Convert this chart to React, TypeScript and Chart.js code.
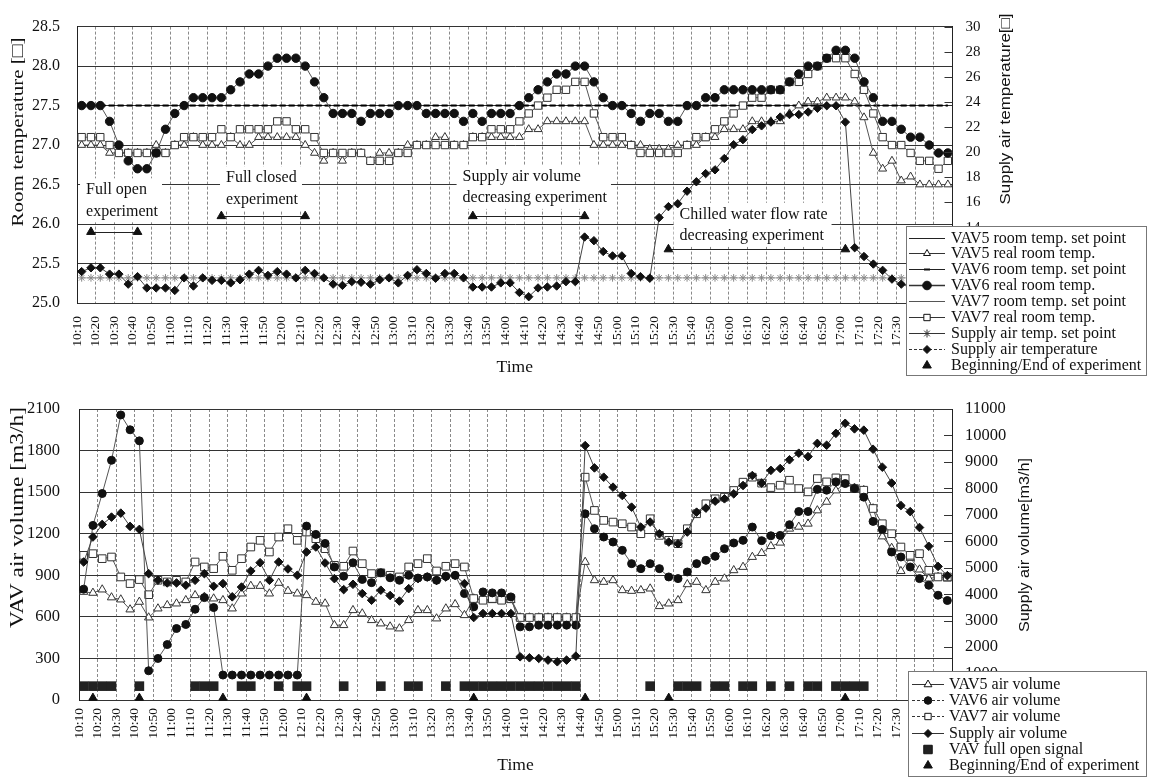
import React, { useEffect, useRef } from "react";
import { Chart, registerables } from "chart.js";

Chart.register(...registerables);

const SERIF = "'Liberation Serif', 'Times New Roman', serif";
const SANS = "'Liberation Sans', Arial, sans-serif";

// ---------- categories ----------
const sampleTimes = [
  "10:10","10:15","10:20","10:25","10:30","10:35","10:40","10:45","10:50","10:55",
  "11:00","11:05","11:10","11:15","11:20","11:25","11:30","11:35","11:40","11:45","11:50","11:55",
  "12:00","12:05","12:10","12:15","12:20","12:25","12:30","12:35","12:40","12:45","12:50","12:55",
  "13:00","13:05","13:10","13:15","13:20","13:25","13:30","13:35","13:40","13:45","13:50","13:55",
  "14:00","14:05","14:10","14:15","14:20","14:25","14:30","14:35","14:40","14:45","14:50","14:55",
  "15:00","15:05","15:10","15:15","15:20","15:25","15:30","15:35","15:40","15:45","15:50","15:55",
  "16:00","16:05","16:10","16:15","16:20","16:25","16:30","16:35","16:40","16:45","16:50","16:55",
  "17:00","17:05","17:10","17:15","17:20","17:25","17:30","17:35","17:40","17:45","17:50","17:55"
];

const tickLabels = [
  "10:10","10:20","10:30","10:40","10:50",
  "11:00","11:10","11:20","11:30","11:40","11:50",
  "12:00","12:10","12:20","12:30","12:40","12:50",
  "13:00","13:10","13:20","13:30","13:40","13:50",
  "14:00","14:10","14:20","14:30","14:40","14:50",
  "15:00","15:10","15:20","15:30","15:40","15:50",
  "16:00","16:10","16:20","16:30","16:40","16:50",
  "17:00","17:10","17:20","17:30","17:40","17:50"
];

// ---------- top chart: temperatures ----------
const roomSetPoint = [
  27.5,27.5,27.5,27.5,27.5,27.5,27.5,27.5,27.5,27.5,
  27.5,27.5,27.5,27.5,27.5,27.5,27.5,27.5,27.5,27.5,
  27.5,27.5,27.5,27.5,27.5,27.5,27.5,27.5,27.5,27.5,
  27.5,27.5,27.5,27.5,27.5,27.5,27.5,27.5,27.5,27.5,
  27.5,27.5,27.5,27.5,27.5,27.5,27.5,27.5,27.5,27.5,
  27.5,27.5,27.5,27.5,27.5,27.5,27.5,27.5,27.5,27.5,
  27.5,27.5,27.5,27.5,27.5,27.5,27.5,27.5,27.5,27.5,
  27.5,27.5,27.5,27.5,27.5,27.5,27.5,27.5,27.5,27.5,
  27.5,27.5,27.5,27.5,27.5,27.5,27.5,27.5,27.5,27.5,
  27.5,27.5,27.5,27.5
];

const vav5Real = [
  27.0,27.0,27.0,26.9,26.9,26.9,26.9,26.9,27.0,26.9,
  27.0,27.0,27.1,27.0,27.0,27.0,27.1,27.0,27.0,27.1,
  27.1,27.1,27.1,27.1,27.0,26.9,26.8,26.9,26.8,26.9,
  26.9,26.8,26.9,26.9,26.9,27.0,27.0,27.0,27.1,27.1,
  27.0,27.0,27.1,27.1,27.1,27.1,27.1,27.1,27.2,27.2,
  27.3,27.3,27.3,27.3,27.3,27.0,27.0,27.0,27.0,27.0,
  27.0,26.95,26.95,26.95,27.0,27.0,27.0,27.1,27.1,27.2,
  27.2,27.2,27.3,27.3,27.3,27.3,27.4,27.5,27.55,27.55,
  27.6,27.6,27.6,27.55,27.35,26.9,26.7,26.8,26.55,26.6,
  26.5,26.5,26.5,26.5
];

const vav6Real = [
  27.5,27.5,27.5,27.3,27.0,26.8,26.7,26.7,26.9,27.2,
  27.4,27.5,27.6,27.6,27.6,27.6,27.7,27.8,27.9,27.9,
  28.0,28.1,28.1,28.1,28.0,27.8,27.6,27.4,27.4,27.4,
  27.3,27.4,27.4,27.4,27.5,27.5,27.5,27.4,27.4,27.4,
  27.4,27.3,27.4,27.3,27.4,27.4,27.4,27.5,27.6,27.7,
  27.8,27.9,27.9,28.0,28.0,27.8,27.6,27.5,27.5,27.4,
  27.3,27.4,27.4,27.3,27.3,27.5,27.5,27.6,27.6,27.7,
  27.7,27.7,27.7,27.7,27.7,27.7,27.8,27.9,28.0,28.0,
  28.1,28.2,28.2,28.1,27.8,27.6,27.3,27.3,27.2,27.1,
  27.1,27.0,26.9,26.9
];

const vav7Real = [
  27.1,27.1,27.1,27.0,26.9,26.9,26.9,26.9,26.9,26.9,
  27.0,27.1,27.1,27.1,27.1,27.2,27.1,27.2,27.2,27.2,
  27.2,27.3,27.3,27.2,27.2,27.1,26.9,26.9,26.9,26.9,
  26.9,26.8,26.8,26.8,26.9,26.9,27.0,27.0,27.0,27.0,
  27.0,27.0,27.1,27.1,27.2,27.2,27.2,27.3,27.4,27.5,
  27.6,27.7,27.7,27.8,27.8,27.4,27.1,27.1,27.1,27.0,
  26.9,26.9,26.9,26.9,26.9,27.0,27.1,27.1,27.2,27.3,
  27.4,27.5,27.6,27.6,27.7,27.7,27.8,27.8,27.9,28.0,
  28.1,28.1,28.1,27.9,27.7,27.4,27.1,27.0,27.0,26.9,
  26.8,26.8,26.7,26.8
];

const supplyTempSetPoint = [
  10,10,10,10,10,10,10,10,10,10,
  10,10,10,10,10,10,10,10,10,10,
  10,10,10,10,10,10,10,10,10,10,
  10,10,10,10,10,10,10,10,10,10,
  10,10,10,10,10,10,10,10,10,10,
  10,10,10,10,10,10,10,10,10,10,
  10,10,10,10,10,10,10,10,10,10,
  10,10,10,10,10,10,10,10,10,10,
  10,10,10,10,10,10,10,10,10,10,
  10,10,10,10
];

const supplyTemp = [
  10.5,10.8,10.8,10.3,10.3,9.5,10.1,9.2,9.2,9.2,
  9.0,10.0,9.35,10.0,9.8,9.8,9.6,9.85,10.3,10.6,
  10.2,10.5,10.3,10.0,10.6,10.35,10.0,9.5,9.4,9.7,
  9.65,9.5,9.85,10.0,9.6,10.2,10.65,10.35,9.97,10.35,
  10.35,10.0,9.27,9.27,9.27,9.6,9.6,8.84,8.5,9.2,
  9.27,9.35,9.7,9.7,13.25,12.96,12.1,11.75,11.75,10.35,
  10.1,9.97,14.8,15.67,15.9,16.9,17.65,18.3,18.6,19.5,
  20.6,21.0,21.8,22.1,22.4,22.8,23.0,23.0,23.2,23.5,
  23.7,23.7,22.4,12.4,11.7,11.1,10.6,9.9,9.5,9.3,
  9.2,9.2,9.1,9.1
];

// beginning / end of experiments (sample index, value)
const expMarkIndex = [1, 6, 15, 24, 42, 54, 63, 82];
const expMarkTemp = [25.9, 25.9, 26.1, 26.1, 26.1, 26.1, 25.68, 25.68];
const expMarkVolume = [15, 15, 15, 15, 15, 15, 15, 15];

// ---------- bottom chart: air volumes ----------
const vav5Vol = [
  780,773,797,740,725,653,708,595,660,684,
  696,720,756,744,732,720,660,768,823,823,
  768,845,787,768,756,708,696,540,540,648,
  624,576,552,530,516,576,648,648,588,660,
  691,612,732,720,720,720,720,595,595,595,
  595,595,595,595,996,864,852,864,792,787,
  792,804,677,696,720,835,852,792,852,876,
  936,960,1032,1060,1110,1135,1236,1250,1272,1368,
  1430,1512,1562,1531,1514,1382,1180,1097,930,1025,
  941,876,888,876
];

const vav6Vol = [
  800,1260,1490,1730,2057,1950,1870,211,300,400,
  516,545,655,739,667,180,180,180,180,180,
  180,180,180,180,1255,1195,1130,960,893,990,
  870,847,918,882,864,900,880,888,864,893,
  900,768,672,780,773,773,744,528,528,540,
  540,540,540,540,1344,1236,1176,1140,1080,984,
  948,984,948,888,876,924,984,1008,1037,1092,
  1133,1152,1248,1150,1185,1188,1265,1360,1360,1520,
  1514,1574,1562,1526,1464,1289,1231,1068,1032,960,
  876,828,756,718
];

const vav7Vol = [
  1044,1056,1020,1032,888,840,869,760,864,852,
  864,852,996,960,948,1037,936,1020,1104,1152,
  1068,1176,1236,1152,1212,1164,1092,972,965,1075,
  984,912,918,900,888,960,984,1020,931,965,
  984,960,732,720,732,720,732,595,595,595,
  595,595,595,595,1608,1368,1296,1284,1272,1248,
  1200,1308,1188,1152,1128,1236,1344,1416,1452,1464,
  1512,1572,1608,1565,1533,1550,1586,1526,1502,1598,
  1574,1603,1598,1526,1514,1382,1272,1200,1104,1044,
  1056,936,888,888
];

const supplyVol = [
  5217,6160,6637,6914,7064,6562,6448,4777,4525,4425,
  4425,4337,4525,4777,4300,4400,3900,4270,4877,5190,
  4525,5217,4953,4714,5594,5782,5179,4588,4173,4374,
  4023,3771,4150,3950,3740,4210,4590,4650,4525,4650,
  4714,4400,3117,3268,3268,3268,3268,1634,1596,1571,
  1508,1445,1508,1659,9616,8774,8422,8045,7730,7290,
  6536,6725,6285,5971,5908,6348,7100,7253,7517,7605,
  7793,8108,8485,8200,8680,8750,9080,9330,9200,9700,
  9630,10080,10460,10250,10200,9480,8800,8200,7350,7120,
  6520,5810,5050,4700
];

const fullOpenSignal = [
  100,100,100,100,null,null,100,null,null,null,
  null,null,100,100,100,null,null,100,100,null,
  null,100,null,100,100,null,null,null,100,null,
  null,null,100,null,null,100,100,null,null,100,
  null,100,100,100,100,100,100,100,100,100,
  100,100,100,100,null,null,null,null,null,null,
  null,100,null,null,100,100,100,null,100,100,
  null,100,100,null,100,null,100,null,100,100,
  null,100,100,100,100,null,null,null,null,null,
  null,null,null,null
];

// ---------- helpers ----------
const toXY = (values: (number | null)[]) => values.map((v, i) => ({ x: i, y: v }));
const toXYAt = (xs: number[], ys: number[]) => xs.map((x, i) => ({ x, y: ys[i] }));

function pathMarker(ctx: CanvasRenderingContext2D, style: string, x: number, y: number, r: number) {
  ctx.beginPath();
  if (style === "circle") {
    ctx.arc(x, y, r, 0, Math.PI * 2);
  } else if (style === "triangle") {
    for (let k = 0; k < 3; k++) {
      const a = (k * 2 * Math.PI) / 3;
      const px = x + Math.sin(a) * r;
      const py = y - Math.cos(a) * r;
      if (k === 0) ctx.moveTo(px, py);
      else ctx.lineTo(px, py);
    }
    ctx.closePath();
  } else if (style === "rect") {
    const s = r * Math.SQRT1_2;
    ctx.rect(x - s, y - s, 2 * s, 2 * s);
  } else if (style === "rectRot") {
    ctx.moveTo(x, y - r);
    ctx.lineTo(x + r, y);
    ctx.lineTo(x, y + r);
    ctx.lineTo(x - r, y);
    ctx.closePath();
  } else if (style === "star") {
    for (let k = 0; k < 4; k++) {
      const a = (k * Math.PI) / 4;
      ctx.moveTo(x - Math.cos(a) * r, y - Math.sin(a) * r);
      ctx.lineTo(x + Math.cos(a) * r, y + Math.sin(a) * r);
    }
  } else if (style === "dash") {
    ctx.moveTo(x - r, y);
    ctx.lineTo(x + r, y);
  }
}

const boxLegendPlugin = {
  id: "boxLegend",
  afterDraw(chart: any, _args: any, opts: any) {
    if (!opts || !opts.items) return;
    const ctx: CanvasRenderingContext2D = chart.ctx;
    const { box, items, rowY0, rowH, lineX1, lineX2, textX, font } = opts;
    ctx.save();
    ctx.fillStyle = "#fff";
    ctx.fillRect(box.x, box.y, box.w, box.h);
    ctx.strokeStyle = "#777";
    ctx.lineWidth = 1;
    ctx.strokeRect(box.x + 0.5, box.y + 0.5, box.w, box.h);
    items.forEach((it: any, i: number) => {
      const y = Math.round(rowY0 + i * rowH);
      if (it.line) {
        ctx.beginPath();
        ctx.setLineDash(it.dash || []);
        ctx.strokeStyle = it.lineColor || "#333";
        ctx.lineWidth = it.lineWidth || 1;
        ctx.moveTo(lineX1, y + 0.5);
        ctx.lineTo(lineX2, y + 0.5);
        ctx.stroke();
        ctx.setLineDash([]);
      }
      if (it.marker) {
        const mx = (lineX1 + lineX2) / 2;
        pathMarker(ctx, it.marker, mx, y + 0.5, it.r);
        if (it.fill) {
          ctx.fillStyle = it.fill;
          ctx.fill();
        }
        ctx.strokeStyle = it.stroke || "#111";
        ctx.lineWidth = it.marker === "dash" ? 2 : 1;
        ctx.stroke();
      }
      ctx.fillStyle = "#111";
      ctx.font = font;
      ctx.textBaseline = "middle";
      ctx.textAlign = "left";
      ctx.fillText(it.text, textX, y + 1);
    });
    ctx.restore();
  },
};

const axisTitlesPlugin = {
  id: "axisTitles",
  afterDraw(chart: any, _args: any, opts: any) {
    if (!opts || !opts.items) return;
    const ctx: CanvasRenderingContext2D = chart.ctx;
    for (const t of opts.items) {
      ctx.save();
      ctx.font = t.font;
      ctx.fillStyle = "#111";
      ctx.translate(t.x, t.y);
      ctx.rotate(-Math.PI / 2);
      const w = ctx.measureText(t.text).width;
      const sx = t.length ? t.length / w : 1;
      ctx.scale(sx, 1);
      ctx.textAlign = "center";
      ctx.textBaseline = "middle";
      ctx.fillText(t.text, 0, 0);
      ctx.restore();
    }
  },
};

const innerTicksPlugin = {
  id: "innerTicks",
  afterDatasetsDraw(chart: any) {
    const s = chart.scales.y1;
    if (!s) return;
    const ctx: CanvasRenderingContext2D = chart.ctx;
    const right = chart.chartArea.right;
    ctx.save();
    ctx.strokeStyle = "#333";
    ctx.lineWidth = 1;
    s.ticks.forEach((t: any) => {
      const y = Math.round(s.getPixelForValue(t.value)) + 0.5;
      ctx.beginPath();
      ctx.moveTo(right - 8, y);
      ctx.lineTo(right, y);
      ctx.stroke();
    });
    ctx.restore();
  },
};

const expNotesPlugin = {
  id: "expNotes",
  beforeDatasetsDraw(chart: any, _args: any, opts: any) {
    if (!opts || !opts.notes) return;
    const ctx: CanvasRenderingContext2D = chart.ctx;
    const xs = chart.scales.x;
    const ys = chart.scales.y;
    ctx.save();
    ctx.font = opts.font;
    for (const n of opts.notes) {
      const px = xs.getPixelForValue(n.x);
      const py = ys.getPixelForValue(n.y);
      const w = Math.max(...n.lines.map((l: string) => ctx.measureText(l).width));
      const h = opts.lineH * n.lines.length;
      ctx.fillStyle = "#fff";
      ctx.fillRect(px - 6, py - opts.lineH / 2 - 1, w + 10, h + 1);
      ctx.fillStyle = "#111";
      ctx.textBaseline = "middle";
      ctx.textAlign = "left";
      n.lines.forEach((l: string, i: number) => ctx.fillText(l, px, py + i * opts.lineH));
    }
    const marks = opts.marks;
    ctx.strokeStyle = "#222";
    ctx.lineWidth = 1;
    for (let i = 0; i + 1 < marks.length; i += 2) {
      const x1 = xs.getPixelForValue(marks[i].x);
      const x2 = xs.getPixelForValue(marks[i + 1].x);
      const y1 = Math.round(ys.getPixelForValue(marks[i].y)) + 0.5;
      ctx.beginPath();
      ctx.moveTo(x1, y1);
      ctx.lineTo(x2, y1);
      ctx.stroke();
    }
    ctx.restore();
  },
};

function timeAxis(tickPad: number, titlePad: number) {
  return {
    type: "linear",
    min: -0.5,
    max: 93.5,
    afterBuildTicks: (s: any) => {
      s.ticks = tickLabels.map((_l, i) => ({ value: -0.5 + 2 * i }));
    },
    afterFit: (s: any) => {
      s.height = 77;
    },
    ticks: {
      autoSkip: false,
      minRotation: 90,
      maxRotation: 90,
      padding: tickPad,
      color: "#111",
      font: { family: SERIF, size: 13.5 },
      callback: (_v: any, i: number) => tickLabels[i],
    },
    grid: { color: "#8a8a8a", lineWidth: 1, drawTicks: false },
    border: { display: false, dash: [3, 2] },
    title: {
      display: true,
      text: "Time",
      color: "#111",
      font: { family: SERIF, size: 17.5 },
      padding: { top: 0, bottom: titlePad },
    },
  };
}

function lineDs(label: string, values: (number | null)[], axis: string, extra: any) {
  return {
    label,
    data: toXY(values),
    yAxisID: axis,
    borderColor: "#555",
    borderWidth: 1,
    pointBorderWidth: 1,
    tension: 0,
    ...extra,
  };
}

const plainNumber = (v: any) => String(v);

function topConfig(): any {
  const marks = toXYAt(expMarkIndex, expMarkTemp);
  return {
    type: "line",
    data: {
      datasets: [
        lineDs("VAV5 room temp. set point", roomSetPoint, "y", { borderColor: "#000", borderDash: [6, 3], pointRadius: 0, order: 6 }),
        lineDs("VAV5 real room temp.", vav5Real, "y", {
          pointStyle: "triangle", pointRadius: 4.6, pointBackgroundColor: "#fff", pointBorderColor: "#333", order: 4,
        }),
        lineDs("VAV6 room temp. set point", roomSetPoint, "y", { borderColor: "#000", borderWidth: 2, borderDash: [6, 3], pointRadius: 0, order: 6 }),
        lineDs("VAV6 real room temp.", vav6Real, "y", {
          pointStyle: "circle", pointRadius: 4.2, pointBackgroundColor: "#111", pointBorderColor: "#111", order: 1,
        }),
        lineDs("VAV7 room temp. set point", roomSetPoint, "y", { borderColor: "#000", borderDash: [6, 3], pointRadius: 0, order: 6 }),
        lineDs("VAV7 real room temp.", vav7Real, "y", {
          pointStyle: "rect", pointRadius: 5.2, pointBackgroundColor: "#fff", pointBorderColor: "#333", order: 3,
        }),
        lineDs("Supply air temp. set point", supplyTempSetPoint, "y1", {
          borderColor: "#aaa", pointStyle: "star", pointRadius: 3.8, pointBorderColor: "#888", order: 5,
        }),
        lineDs("Supply air temperature", supplyTemp, "y1", {
          borderColor: "#444", pointStyle: "rectRot", pointRadius: 4.2, pointBackgroundColor: "#111", pointBorderColor: "#111", order: 2,
        }),
        {
          label: "Beginning/End of experiment",
          data: marks,
          yAxisID: "y",
          showLine: false,
          pointStyle: "triangle",
          pointRadius: 5,
          pointBackgroundColor: "#111",
          pointBorderColor: "#111",
          clip: false,
          order: 0,
        },
      ],
    },
    options: {
      responsive: false,
      animation: false,
      devicePixelRatio: 1,
      layout: { padding: { top: 15, left: 0, right: 0, bottom: 0 } },
      plugins: {
        legend: { display: false },
        tooltip: { enabled: false },
        expNotes: {
          font: `16px ${SERIF}`,
          lineH: 21.5,
          marks,
          notes: [
            { x: 0.47, y: 26.43, lines: ["Full open", "experiment"] },
            { x: 15.5, y: 26.58, lines: ["Full closed", "experiment"] },
            { x: 40.9, y: 26.6, lines: ["Supply air volume", "decreasing experiment"] },
            { x: 64.2, y: 26.12, lines: ["Chilled water flow rate", "decreasing experiment"] },
          ],
        },
        axisTitles: {
          items: [
            { text: "Room temperature [□]", x: 18, y: 132, length: 189, font: `17.5px ${SERIF}` },
            { text: "Supply air temperature[□]", x: 1006, y: 109, length: 191, font: `14.5px ${SANS}` },
          ],
        },
        boxLegend: {
          box: { x: 906, y: 226, w: 240, h: 149 },
          rowY0: 237.5,
          rowH: 15.9,
          lineX1: 909,
          lineX2: 945,
          textX: 951,
          font: `16px ${SERIF}`,
          items: [
            { text: "VAV5 room temp. set point", line: true, lineColor: "#222" },
            { text: "VAV5 real room temp.", line: true, marker: "triangle", r: 4, fill: "#fff" },
            { text: "VAV6 room temp. set point", line: true, lineColor: "#222", marker: "dash", r: 3 },
            { text: "VAV6 real room temp.", line: true, lineWidth: 1.5, marker: "circle", r: 4.3, fill: "#111" },
            { text: "VAV7 room temp. set point", line: true, lineColor: "#555" },
            { text: "VAV7 real room temp.", line: true, marker: "rect", r: 4.5, fill: "#fff" },
            { text: "Supply air temp. set point", line: true, marker: "star", r: 4, stroke: "#333" },
            { text: "Supply air temperature", line: true, dash: [3, 2], marker: "rectRot", r: 4, fill: "#111" },
            { text: "Beginning/End of experiment", line: false, marker: "triangle", r: 5, fill: "#111" },
          ],
        },
      },
      scales: {
        x: timeAxis(13, 2.5),
        y: {
          position: "left",
          min: 25,
          max: 28.5,
          afterFit: (s: any) => {
            s.width = 77;
          },
          ticks: {
            stepSize: 0.5,
            padding: 17,
            color: "#111",
            font: { family: SERIF, size: 16 },
            callback: (v: any) => Number(v).toFixed(1),
          },
          grid: { color: "#333", lineWidth: 1, drawTicks: false },
          border: { color: "#222", width: 1 },
        },
        y1: {
          position: "right",
          min: 8,
          max: 30,
          afterFit: (s: any) => {
            s.width = 199.5;
          },
          ticks: { stepSize: 2, padding: 13, color: "#111", font: { family: SERIF, size: 15 }, callback: plainNumber },
          grid: { drawOnChartArea: false, drawTicks: false },
          border: { color: "#222", width: 1 },
        },
      },
    },
    plugins: [expNotesPlugin, innerTicksPlugin, axisTitlesPlugin, boxLegendPlugin],
  };
}

function bottomConfig(): any {
  const marks = toXYAt(expMarkIndex, expMarkVolume);
  return {
    type: "line",
    data: {
      datasets: [
        lineDs("VAV5 air volume", vav5Vol, "y", {
          pointStyle: "triangle", pointRadius: 4.8, pointBackgroundColor: "#fff", pointBorderColor: "#333", order: 4,
        }),
        lineDs("VAV6 air volume", vav6Vol, "y", {
          pointStyle: "circle", pointRadius: 4, pointBackgroundColor: "#111", pointBorderColor: "#111", order: 2,
        }),
        lineDs("VAV7 air volume", vav7Vol, "y", {
          pointStyle: "rect", pointRadius: 5.4, pointBackgroundColor: "#fff", pointBorderColor: "#333", order: 3,
        }),
        lineDs("Supply air volume", supplyVol, "y1", {
          borderColor: "#444", pointStyle: "rectRot", pointRadius: 4.3, pointBackgroundColor: "#111", pointBorderColor: "#111", order: 1,
        }),
        {
          label: "VAV full open signal",
          data: toXY(fullOpenSignal),
          yAxisID: "y",
          showLine: false,
          pointStyle: "rect",
          pointRadius: 6.8,
          pointBackgroundColor: "#222",
          pointBorderColor: "#222",
          pointBorderWidth: 0,
          order: 5,
        },
        {
          label: "Beginning/End of experiment",
          data: marks,
          yAxisID: "y",
          showLine: false,
          pointStyle: "triangle",
          pointRadius: 4.8,
          pointBackgroundColor: "#111",
          pointBorderColor: "#111",
          clip: false,
          order: 0,
        },
      ],
    },
    options: {
      responsive: false,
      animation: false,
      devicePixelRatio: 1,
      layout: { padding: { top: 29, left: 0, right: 0, bottom: 0 } },
      plugins: {
        legend: { display: false },
        tooltip: { enabled: false },
        axisTitles: {
          items: [
            { text: "VAV air volume [m3/h]", x: 18, y: 137.5, length: 221, font: `18px ${SERIF}` },
            { text: "Supply air volume[m3/h]", x: 1025, y: 165, length: 174, font: `15px ${SANS}` },
          ],
        },
        boxLegend: {
          box: { x: 908, y: 291, w: 238, h: 105 },
          rowY0: 304,
          rowH: 16.2,
          lineX1: 912,
          lineX2: 944,
          textX: 949,
          font: `16px ${SERIF}`,
          items: [
            { text: "VAV5 air volume", line: true, marker: "triangle", r: 4.5, fill: "#fff" },
            { text: "VAV6 air volume", line: true, dash: [3, 2], marker: "circle", r: 3.8, fill: "#111" },
            { text: "VAV7 air volume", line: true, dash: [3, 2], marker: "rect", r: 4.5, fill: "#fff" },
            { text: "Supply air volume", line: true, marker: "rectRot", r: 4, fill: "#111" },
            { text: "VAV full open signal", line: false, marker: "rect", r: 6, fill: "#222" },
            { text: "Beginning/End of experiment", line: false, marker: "triangle", r: 5, fill: "#111" },
          ],
        },
      },
      scales: {
        x: timeAxis(8, 1.5),
        y: {
          position: "left",
          min: 0,
          max: 2100,
          afterFit: (s: any) => {
            s.width = 79;
          },
          ticks: { stepSize: 300, padding: 19, color: "#111", font: { family: SERIF, size: 16.5 }, callback: plainNumber },
          grid: { color: "#333", lineWidth: 1, drawTicks: false },
          border: { color: "#222", width: 1 },
        },
        y1: {
          position: "right",
          min: 0,
          max: 11000,
          afterFit: (s: any) => {
            s.width = 200;
          },
          ticks: { stepSize: 1000, padding: 13, color: "#111", font: { family: SERIF, size: 16.5 }, callback: plainNumber },
          grid: { drawOnChartArea: false, drawTicks: false },
          border: { color: "#222", width: 1 },
        },
      },
    },
    plugins: [innerTicksPlugin, axisTitlesPlugin, boxLegendPlugin],
  };
}

export default function App() {
  const topRef = useRef<HTMLCanvasElement>(null);
  const botRef = useRef<HTMLCanvasElement>(null);

  useEffect(() => {
    if (!topRef.current || !botRef.current) return;
    const c1 = new Chart(topRef.current, topConfig());
    const c2 = new Chart(botRef.current, bottomConfig());
    return () => {
      c1.destroy();
      c2.destroy();
    };
  }, []);

  return (
    <div style={{ position: "absolute", left: 0, top: 0, width: 1152, height: 777, background: "#fff" }}>
      <canvas
        ref={topRef}
        width={1152}
        height={380}
        style={{ position: "absolute", left: 0, top: 0, width: 1152, height: 380, display: "block" }}
      />
      <canvas
        ref={botRef}
        width={1152}
        height={397}
        style={{ position: "absolute", left: 0, top: 380, width: 1152, height: 397, display: "block" }}
      />
    </div>
  );
}
